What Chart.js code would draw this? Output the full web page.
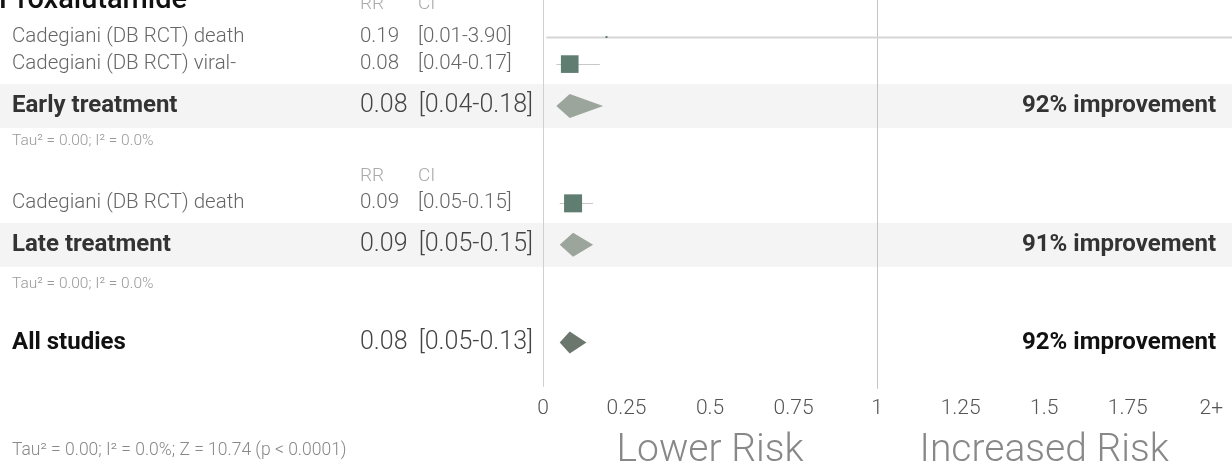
<!DOCTYPE html>
<html>
<head>
<meta charset="utf-8">
<script src="https://cdn.jsdelivr.net/npm/chart.js@4.4.1/dist/chart.umd.min.js"></script>
<style>
  html, body { margin: 0; padding: 0; background: #fff; }
  #forest { display: block; }
</style>
</head>
<body>
<canvas id="forest" width="1232" height="466"></canvas>
<script>
/* forest plot data */
const studyNames = ["Cadegiani (DB RCT) death", "Cadegiani (DB RCT) viral-", "Cadegiani (DB RCT) death"];
const studyRR = [0.19, 0.08, 0.09];
const studyLow = [0.01, 0.04, 0.05];
const studyHigh = [3.90, 0.17, 0.15];
const studyWeight = [2, 98, 100];

const groupNames = ["Early treatment", "Late treatment", "All studies"];
const groupRR = [0.08, 0.09, 0.08];
const groupLow = [0.04, 0.05, 0.05];
const groupHigh = [0.18, 0.15, 0.13];
const groupImprovement = [92, 91, 92];
const groupTau = ["Tau\u00b2 = 0.00; I\u00b2 = 0.0%", "Tau\u00b2 = 0.00; I\u00b2 = 0.0%",
                  "Tau\u00b2 = 0.00; I\u00b2 = 0.0%; Z = 10.74 (p < 0.0001)"];

const tickValues = [0, 0.25, 0.5, 0.75, 1, 1.25, 1.5, 1.75, 2];
const tickLabels = ["0", "0.25", "0.5", "0.75", "1", "1.25", "1.5", "1.75", "2+"];

/* layout: row slots on the hidden y scale */
const studySlot = [1.34, 2.32, 7.36];
const groupSlot = [3.84, 8.86, 12.4];
const tauSlot = [5.12, 10.3, 16.3];
const headerSlot = [0.15, 6.38];

const FONT = "Roboto, 'Open Sans', sans-serif";
const fmt = v => v.toFixed(2);

const forestPlugin = {
  id: "forest",
  beforeDatasetsDraw(chart) {
    const { ctx, chartArea, scales: { x, y } } = chart;
    const W = chart.width;
    ctx.save();

    // summary bands
    ctx.fillStyle = "#f4f4f4";
    [0, 1].forEach(i => {
      const cy = y.getPixelForValue(groupSlot[i]);
      ctx.fillRect(0, cy - 22, W, 44);
    });

    // reference lines at 0 and 1
    ctx.lineWidth = 1;
    ctx.strokeStyle = "#d0d0d0";
    let px = Math.round(x.getPixelForValue(0)) + 0.5;
    ctx.beginPath(); ctx.moveTo(px, 0); ctx.lineTo(px, chartArea.bottom); ctx.stroke();
    ctx.strokeStyle = "#c4c4c4";
    px = Math.round(x.getPixelForValue(1)) + 0.5;
    ctx.beginPath(); ctx.moveTo(px, 0); ctx.lineTo(px, chartArea.bottom + 2); ctx.stroke();

    // confidence intervals
    studyRR.forEach((v, i) => {
      const cy = Math.round(y.getPixelForValue(studySlot[i])) + 0.5;
      const x0 = x.getPixelForValue(studyLow[i]);
      const x1 = studyHigh[i] > 2 ? W : x.getPixelForValue(studyHigh[i]);
      ctx.strokeStyle = studyHigh[i] > 2 ? "#d6d6d6" : "#c8c8c8";
      ctx.lineWidth = studyHigh[i] > 2 ? 2 : 1;
      ctx.beginPath(); ctx.moveTo(x0, cy); ctx.lineTo(x1, cy); ctx.stroke();
    });
    ctx.restore();
  },
  afterDatasetsDraw(chart) {
    const { ctx, scales: { x, y } } = chart;
    ctx.save();

    // diamonds
    groupRR.forEach((v, i) => {
      const cy = y.getPixelForValue(groupSlot[i]);
      const h = i === 2 ? 11 : 12;
      ctx.fillStyle = i === 2 ? "#6b776d" : "#9ba59c";
      ctx.beginPath();
      ctx.moveTo(x.getPixelForValue(groupLow[i]), cy);
      ctx.lineTo(x.getPixelForValue(v), cy - h);
      ctx.lineTo(x.getPixelForValue(groupHigh[i]), cy);
      ctx.lineTo(x.getPixelForValue(v), cy + h);
      ctx.closePath();
      ctx.fill();
    });

    // title (cut off at top)
    ctx.fillStyle = "#111";
    ctx.textBaseline = "alphabetic";
    ctx.font = "500 29px " + FONT;
    ctx.fillText("Proxalutamide", -1, 8);
    ctx.textBaseline = "middle";

    // column headers
    ctx.fillStyle = "#aaa";
    ctx.font = "300 19px " + FONT;
    headerSlot.forEach(s => {
      const cy = y.getPixelForValue(s);
      ctx.fillText("RR", 360, cy);
      ctx.fillText("CI", 418, cy);
    });

    // study rows
    studyNames.forEach((name, i) => {
      const cy = y.getPixelForValue(studySlot[i]);
      ctx.font = "300 20.5px " + FONT;
      ctx.fillStyle = "#666";
      ctx.textAlign = "left";
      ctx.fillText(name, 12, cy);
      ctx.fillText(fmt(studyRR[i]), 360, cy);
      ctx.fillText("[" + fmt(studyLow[i]) + "-" + fmt(studyHigh[i]) + "]", 418, cy);
    });

    // summary rows
    groupNames.forEach((name, i) => {
      const cy = y.getPixelForValue(groupSlot[i]);
      ctx.textAlign = "left";
      ctx.font = "700 24px " + FONT;
      ctx.fillStyle = i === 2 ? "#111" : "#333";
      ctx.fillText(name, 12, cy);
      ctx.textAlign = "right";
      ctx.fillText(groupImprovement[i] + "% improvement", 1216, cy);
      ctx.font = "300 25px " + FONT;
      ctx.fillStyle = "#444";
      ctx.textAlign = "left";
      ctx.fillText(fmt(groupRR[i]), 360, cy);
      ctx.textAlign = "right";
      ctx.fillText("[" + fmt(groupLow[i]) + "-" + fmt(groupHigh[i]) + "]", 533, cy);
    });

    // heterogeneity notes
    ctx.textAlign = "left";
    groupTau.forEach((t, i) => {
      const cy = y.getPixelForValue(tauSlot[i]);
      ctx.font = (i === 2 ? "300 17.5px " : "300 15.5px ") + FONT;
      ctx.fillStyle = i === 2 ? "#888" : "#999";
      ctx.fillText(t, 12, cy);
    });

    // risk labels
    ctx.textAlign = "center";
    ctx.font = "300 39px " + FONT;
    ctx.fillStyle = "#888";
    const ly = y.getPixelForValue(16.32);
    ctx.fillText("Lower Risk", x.getPixelForValue(0.5), ly);
    ctx.fillText("Increased Risk", x.getPixelForValue(1.5), ly);

    ctx.restore();
  }
};

new Chart(document.getElementById("forest"), {
  type: "scatter",
  data: {
    datasets: [{
      data: studyRR.map((v, i) => ({ x: v, y: studySlot[i] })),
      pointStyle: "rect",
      pointRadius: studyWeight.map(w => Math.max(2, w * 0.18) / Math.SQRT2),
      backgroundColor: "#5f7d71",
      borderWidth: 0,
      clip: false
    }]
  },
  options: {
    responsive: false,
    devicePixelRatio: 1,
    animation: false,
    layout: { autoPadding: false, padding: { left: 543, right: 17, top: 0, bottom: 36 } },
    plugins: { legend: { display: false }, tooltip: { enabled: false } },
    scales: {
      x: {
        type: "linear",
        min: 0,
        max: 2,
        afterBuildTicks: axis => { axis.ticks = tickValues.map(v => ({ value: v })); },
        ticks: {
          padding: 9,
          color: "#555",
          font: { family: FONT, size: 21, weight: "300" },
          callback: (v) => tickLabels[tickValues.indexOf(v)]
        },
        grid: { display: false, drawTicks: false },
        border: { display: false }
      },
      y: {
        type: "linear",
        display: false,
        min: 0,
        max: 14,
        reverse: true
      }
    }
  },
  plugins: [forestPlugin]
});
</script>
</body>
</html>
